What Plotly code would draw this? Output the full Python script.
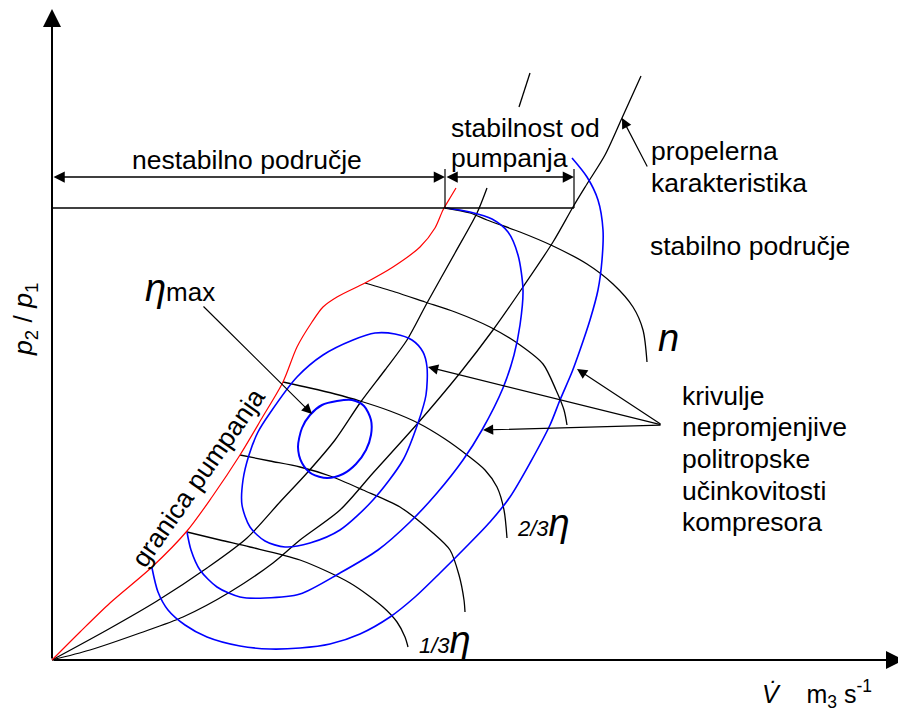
import plotly.graph_objects as go

FONT = "Liberation Sans, Arial, sans-serif"
BLUE = "#0000ff"
RED = "#ff0000"

# surge line (granica pumpanja)
SURGE_X = [0, .28, .58, 1.00, 1.35, 1.60, 1.88, 2.10, 2.31, 2.45, 2.60, 2.71, 2.85, 3.13, 3.41, 3.68, 3.83, 3.91, 3.98, 4.04]
SURGE_Y = [0, .28, .57, .93, 1.29, 1.63, 2.05, 2.42, 2.78, 3.13, 3.38, 3.53, 3.63, 3.77, 3.93, 4.13, 4.32, 4.50, 4.62, 4.72]

# propeller characteristics (the first one is interrupted by the text)
PROP_A_X = [0, .55, 1.05, 1.55, 1.95, 2.28, 2.55, 2.83, 3.08, 3.33, 3.55, 3.75, 4.03, 4.25, 4.35, None, 4.67, 4.78]
PROP_A_Y = [0, .30, .59, .92, 1.22, 1.58, 1.87, 2.20, 2.57, 2.90, 3.20, 3.57, 4.07, 4.47, 4.72, None, 5.53, 5.87]
PROP_B_X = [0, .38, .88, 1.31, 1.78, 2.21, 2.48, 2.88, 3.21, 3.66, 4.08, 4.41, 4.71, 5.01, 5.21, 5.35, 5.53, 5.70, 5.89]
PROP_B_Y = [0, .10, .27, .43, .68, .97, 1.20, 1.50, 1.87, 2.37, 2.87, 3.30, 3.73, 4.18, 4.53, 4.76, 5.05, 5.42, 5.84]

# constant speed lines, n down to 1/3 n
SPEED_X = [
    [3.93, 4.18, 4.35, 4.68, 5.01, 5.35, 5.61, 5.81, 5.91, 5.95],
    [3.13, 3.43, 3.73, 4.03, 4.38, 4.68, 4.91, 5.04, 5.12, 5.15],
    [2.31, 2.58, 2.83, 3.08, 3.38, 3.66, 3.93, 4.15, 4.33, 4.45, 4.52, 4.55],
    [1.88, 2.18, 2.48, 2.78, 3.11, 3.48, 3.81, 3.98, 4.07, 4.12, 4.13],
    [1.35, 1.68, 1.98, 2.48, 2.98, 3.31, 3.45, 3.53, 3.56],
]
SPEED_Y = [
    [4.52, 4.47, 4.40, 4.28, 4.14, 3.96, 3.76, 3.53, 3.30, 2.98],
    [3.77, 3.68, 3.58, 3.48, 3.33, 3.15, 2.96, 2.70, 2.50, 2.35],
    [2.78, 2.72, 2.66, 2.59, 2.49, 2.37, 2.21, 2.05, 1.90, 1.73, 1.50, 1.22],
    [2.05, 1.99, 1.93, 1.84, 1.70, 1.53, 1.27, 1.10, .85, .60, .48],
    [1.28, 1.20, 1.13, 1.00, .77, .53, .38, .23, .13],
]

# constant efficiency contours, eta_max outwards
EFF_X = [
    [2.46, 2.50, 2.58, 2.70, 2.85, 3.00, 3.12, 3.19, 3.19, 3.14, 3.04, 2.91, 2.75, 2.60, 2.50, 2.46],
    [3.75, 3.71, 3.60, 3.43, 3.23, 3.01, 2.71, 2.45, 2.18, 2.06, 1.97, 1.91, 1.90, 1.98, 2.13, 2.33, 2.58, 2.88,
     3.21, 3.51, 3.66, 3.74, 3.75],
    [3.95, 4.18, 4.40, 4.56, 4.66, 4.71, 4.68, 4.62, 4.51, 4.30, 4.11, 3.85, 3.58, 3.26, 2.88, 2.48, 2.13, 1.88,
     1.65, 1.48, 1.39, 1.35],
    [5.20, 5.35, 5.46, 5.51, 5.50, 5.46, 5.38, 5.28, 5.20, 5.08, 4.98, 4.78, 4.58, 4.38, 4.13, 3.88, 3.63, 3.38,
     3.08, 2.78, 2.48, 2.18, 1.88, 1.55, 1.33, 1.16, 1.06, 1.00],
]
EFF_Y = [
    [2.13, 2.32, 2.45, 2.55, 2.59, 2.60, 2.54, 2.40, 2.25, 2.10, 1.96, 1.86, 1.82, 1.86, 1.97, 2.13],
    [2.93, 3.08, 3.20, 3.26, 3.27, 3.20, 3.05, 2.83, 2.47, 2.28, 2.05, 1.80, 1.55, 1.33, 1.19, 1.13, 1.17, 1.30,
     1.60, 2.00, 2.37, 2.65, 2.93],
    [4.52, 4.48, 4.41, 4.28, 4.05, 3.70, 3.35, 3.05, 2.72, 2.30, 2.00, 1.67, 1.38, 1.10, .87, .66, .62, .63,
     .73, .90, 1.10, 1.28],
    [5.02, 4.83, 4.60, 4.30, 4.00, 3.70, 3.40, 3.10, 2.88, 2.60, 2.35, 1.97, 1.63, 1.38, 1.12, .87, .63, .43,
     .26, .16, .12, .11, .14, .23, .35, .50, .68, .92],
]
EFF_WIDTH = [2.0, 1.6, 1.6, 1.6]

SURGE_LEVEL = 4.52      # p2/p1 of the horizontal reference line
SURGE_POINT_X = 3.93    # where it meets the surge line
STABLE_LIMIT_X = 5.22   # where it meets the propeller line
DIM_LEVEL = 4.83

KRIVULJE_LINES = ["krivulje", "nepromjenjive", "politropske", "učinkovitosti", "kompresora"]
KRIVULJE_Y = [2.64, 2.33, 2.01, 1.69, 1.38]
KRIVULJE_TARGETS = [(3.76, 2.93), (5.25, 2.91), (4.31, 2.30)]

fig = go.Figure()


def curve(x, y, color="black", width=1.3):
    fig.add_trace(go.Scatter(x=x, y=y, mode="lines", hoverinfo="skip",
                             line=dict(color=color, width=width, shape="spline", smoothing=0.8)))


def label(x, y, text, size=26.5, xanchor="left", angle=0):
    fig.add_annotation(x=x, y=y, text=text, showarrow=False, xanchor=xanchor, yanchor="middle",
                       textangle=angle, font=dict(family=FONT, size=size, color="black"))


def arrow(x0, y0, x1, y1, both=False, width=1.2, size=1.7):
    fig.add_annotation(x=x1, y=y1, ax=x0, ay=y0, xref="x", yref="y", axref="x", ayref="y",
                       text="", showarrow=True, arrowhead=2, arrowsize=size, arrowwidth=width,
                       arrowcolor="black", arrowside="end+start" if both else "end")


for xs, ys in zip(SPEED_X, SPEED_Y):
    curve(xs, ys)
curve(PROP_A_X, PROP_A_Y)
curve(PROP_B_X, PROP_B_Y)
for xs, ys, w in zip(EFF_X, EFF_Y, EFF_WIDTH):
    curve(xs, ys, BLUE, w)
curve(SURGE_X, SURGE_Y, RED, 1.2)

# reference line and dimension ticks
fig.add_shape(type="line", x0=0, x1=STABLE_LIMIT_X, y0=SURGE_LEVEL, y1=SURGE_LEVEL,
              line=dict(color="black", width=1.5))
for xv in [SURGE_POINT_X, STABLE_LIMIT_X]:
    fig.add_shape(type="line", x0=xv, x1=xv, y0=SURGE_LEVEL, y1=DIM_LEVEL + 0.08,
                  line=dict(color="black", width=1.2))

# axes
arrow(0, 0, 0, 6.51, width=2, size=1.8)
arrow(0, 0, 8.52, 0, width=2, size=1.8)

# dimension arrows
arrow(0, DIM_LEVEL, SURGE_POINT_X, DIM_LEVEL, both=True, width=1.5, size=1.5)
arrow(SURGE_POINT_X, DIM_LEVEL, STABLE_LIMIT_X, DIM_LEVEL, both=True, width=1.5, size=1.5)

# pointers
arrow(1.50, 3.55, 2.60, 2.46)
arrow(5.96, 4.92, 5.70, 5.42)
for tx, ty in KRIVULJE_TARGETS:
    arrow(6.10, 2.35, tx, ty)

# texts
label(1.95, 5.00, "nestabilno područje", xanchor="center")
label(3.97, 5.32, "stabilnost od")
label(3.97, 5.02, "pumpanja")
label(5.97, 5.09, "propelerna")
label(5.97, 4.77, "karakteristika")
label(5.96, 4.14, "stabilno područje")
label(6.16, 3.22, "<i>n</i>", size=38, xanchor="center")
label(0.91, 3.72, "<i>η</i><span style='font-size:26px'>max</span>", size=38)
label(4.63, 1.37, "<i>2/3</i><i style='font-size:38px'>η</i>", size=22)
label(3.65, 0.20, "<i>1/3</i><i style='font-size:38px'>η</i>", size=22)
for txt, ty in zip(KRIVULJE_LINES, KRIVULJE_Y):
    label(6.28, ty, txt)
label(1.46, 1.82, "granica pumpanja", xanchor="center", angle=-55)
label(-0.27, 3.40, "<i>p</i><sub>2</sub> / <i>p</i><sub>1</sub>", xanchor="center", angle=-90)
label(7.08, -0.34, "<i>V\u0307</i>    m<sub>3</sub> s<sup>-1</sup>", size=25)

# the page body adds an 8 px margin, so the figure is 8 px smaller than the window
fig.update_layout(
    width=898, height=707, margin=dict(l=0, r=0, t=0, b=0),
    paper_bgcolor="white", plot_bgcolor="white", showlegend=False,
    xaxis=dict(range=[-0.44, 8.54], visible=False, fixedrange=True),
    yaxis=dict(range=[-0.55, 6.52], visible=False, fixedrange=True),
)

fig.write_html("out.html")
